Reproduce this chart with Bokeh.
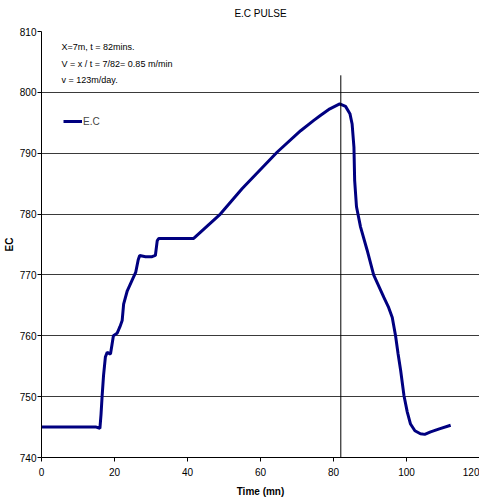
from bokeh.plotting import figure
from bokeh.models import Label, Legend, LegendItem, FixedTicker, Arrow, Title
from bokeh.embed import file_html
from bokeh.resources import INLINE

time_mn = [0, 5, 10, 15, 16.0, 16.3, 16.6, 17.0, 17.5, 18.0, 18.5, 18.9, 19.3, 19.7, 20.7,
           21.5, 22.1, 22.5, 23.5, 24.8, 25.8, 26.5, 26.9, 28.5, 30.3, 31.2, 31.7, 32.1,
           36, 41.7, 49.0, 55.0, 64.6, 71.0, 74.6, 76.4, 79.0, 81.7, 83.3, 84.5, 85.1,
           85.6, 85.8, 86.3, 87.4, 89.2, 91.0, 93.8, 95.0, 96.1, 97.0, 97.7, 98.4, 99.3,
           100.2, 101.1, 102.3, 103.8, 105.0, 106.6, 109.0, 112.1]
ec = [745, 745, 745, 745, 744.8, 747.0, 750.0, 753.5, 756.5, 757.3, 757.1, 757.0, 758.5, 760.0, 760.4,
      761.5, 762.5, 765.2, 767.4, 769.1, 770.4, 772.5, 773.2, 773.0, 773.0, 773.2, 775.6, 776.0,
      776.0, 776.0, 780.0, 784.2, 790.2, 793.7, 795.4, 796.2, 797.3, 798.1, 797.7, 796.5, 794.8,
      791.0, 785.5, 781.2, 777.9, 774.1, 770.0, 766.3, 764.8, 763.0, 760.0, 757.0, 754.3, 750.2,
      747.5, 745.5, 744.4, 743.9, 743.8, 744.2, 744.7, 745.3]

x_ticks = [0, 20, 40, 60, 80, 100, 120]
y_ticks = [740, 750, 760, 770, 780, 790, 800, 810]
peak_time = 82
notes = ["X=7m, t = 82mins.", "V = x / t = 7/82= 0.85 m/min", "v = 123m/day."]

FONT = "Liberation Sans"

p = figure(frame_width=438, frame_height=426, x_range=(0, 120), y_range=(740, 810),
           output_backend="svg", toolbar_location=None,
           min_border_left=0, min_border_right=0, min_border_top=0, min_border_bottom=0)
p.title = None
p.add_layout(Title(text=" ", text_font_size="5.5px", standoff=0), "above")
p.add_layout(Title(text="E.C PULSE", align="center", text_font=FONT, text_font_size="10px",
                   text_font_style="normal", text_color="black"), "above")
p.outline_line_color = None
p.background_fill_color = "white"
p.border_fill_color = "white"

p.xgrid.grid_line_color = None
p.ygrid.grid_line_color = "#3a3a3a"
p.ygrid.grid_line_width = 1
p.xaxis.ticker = FixedTicker(ticks=x_ticks)
p.yaxis.ticker = FixedTicker(ticks=y_ticks)
for ax in (p.xaxis[0], p.yaxis[0]):
    ax.axis_line_color = "black"
    ax.major_tick_line_color = "black"
    ax.major_tick_in = 0
    ax.major_tick_out = 4
    ax.minor_tick_line_color = None
    ax.major_label_text_font = FONT
    ax.major_label_text_font_size = "10px"
    ax.major_label_text_color = "black"
    ax.axis_label_text_font = FONT
    ax.axis_label_text_font_size = "10px"
    ax.axis_label_text_font_style = "bold"
    ax.axis_label_text_color = "black"
p.xaxis.axis_label = "Time (mn)"
p.yaxis.axis_label = "EC"
p.yaxis.major_label_standoff = 1
p.yaxis.axis_label_standoff = 2
p.xaxis.major_label_standoff = 6
p.xaxis.axis_label_standoff = 7

p.add_layout(Arrow(x_start=peak_time, y_start=802.8, x_end=peak_time, y_end=735.1,
                   end=None, start=None, line_color="black", line_width=1))

r = p.line(time_mn, ec, line_color="#000080", line_width=3)

for i, t in enumerate(notes):
    p.add_layout(Label(x=5.5, y=807.4 - i * 2.7, text=t, text_font=FONT,
                       text_font_size="9px", text_baseline="middle", text_color="black"))

legend = Legend(items=[LegendItem(label="E.C", renderers=[r])],
                location=(22, 330), padding=0, margin=0, spacing=0,
                label_standoff=1, glyph_width=19, glyph_height=12, label_height=12,
                label_text_font=FONT, label_text_font_size="10px",
                border_line_color=None, background_fill_alpha=0)
p.add_layout(legend)

open("out.html", "w").write(file_html(p, INLINE))
